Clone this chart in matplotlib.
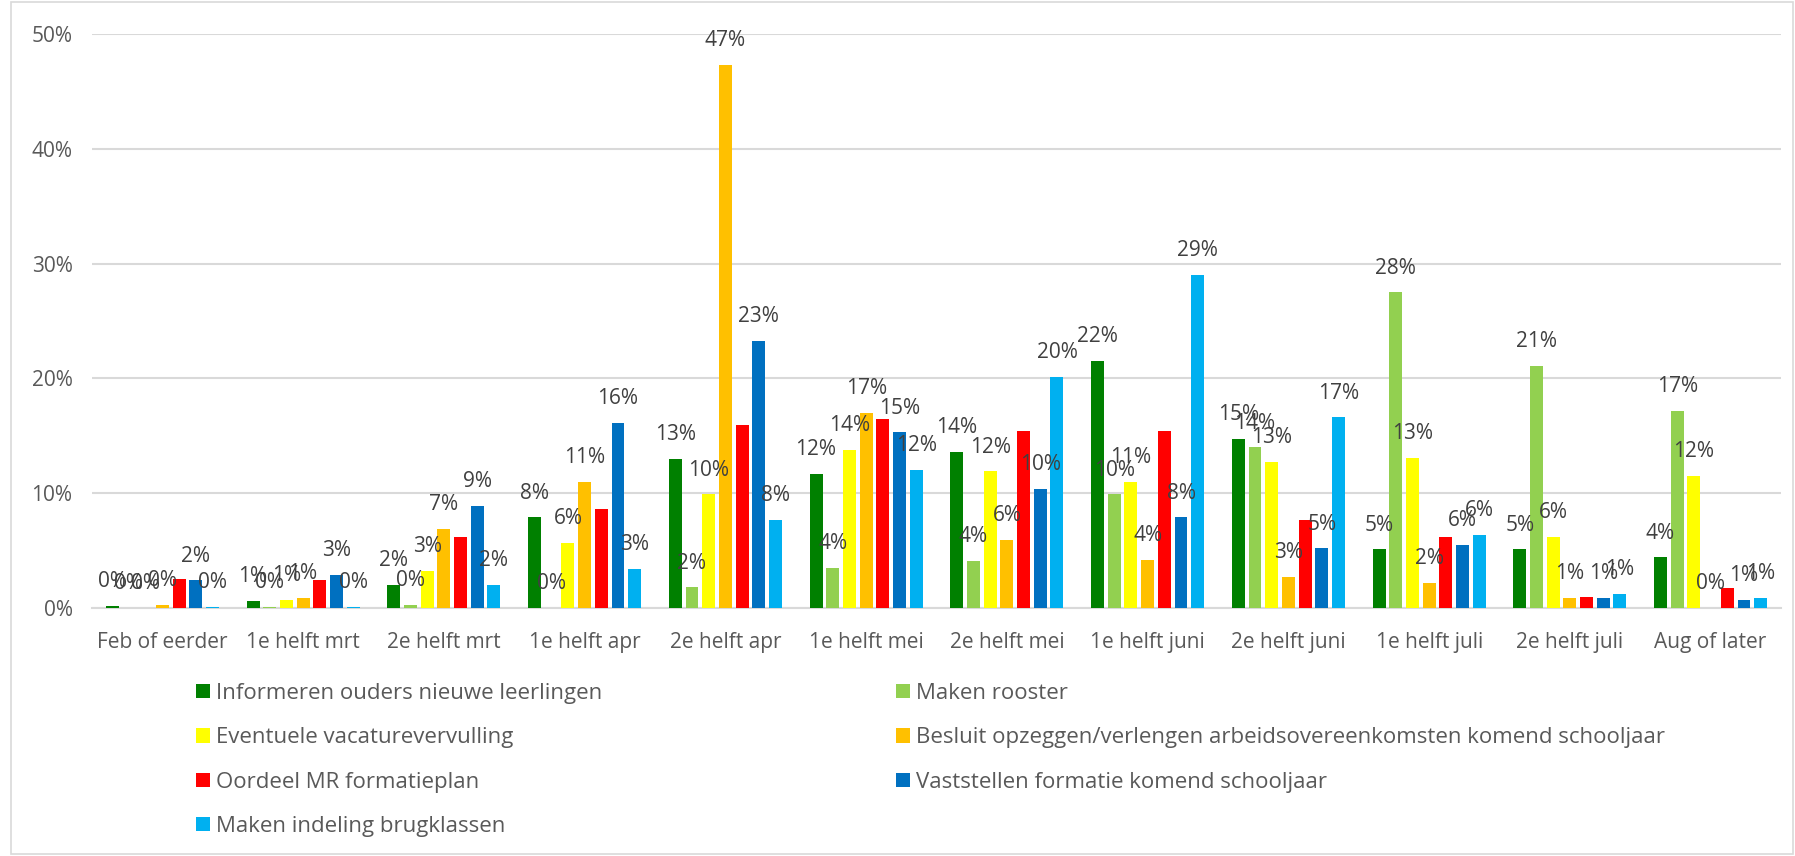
import matplotlib.pyplot as plt
import numpy as np
from matplotlib.patches import Rectangle

categories = ["Feb of eerder", "1e helft mrt", "2e helft mrt", "1e helft apr",
              "2e helft apr", "1e helft mei", "2e helft mei", "1e helft juni",
              "2e helft juni", "1e helft juli", "2e helft juli", "Aug of later"]

series_names = ["Informeren ouders nieuwe leerlingen",
                "Maken rooster",
                "Eventuele vacaturevervulling",
                "Besluit opzeggen/verlengen arbeidsovereenkomsten komend schooljaar",
                "Oordeel MR formatieplan",
                "Vaststellen formatie komend schooljaar",
                "Maken indeling brugklassen"]

# percentages per period
informeren = [0.2, 0.6, 2.0, 7.9, 13.0, 11.7, 13.6, 21.5, 14.7, 5.1, 5.1, 4.4]
rooster = [0.0, 0.1, 0.3, 0.0, 1.8, 3.5, 4.1, 9.9, 14.0, 27.5, 21.1, 17.2]
vacature = [0.0, 0.7, 3.2, 5.7, 9.9, 13.8, 11.9, 11.0, 12.7, 13.1, 6.2, 11.5]
besluit = [0.3, 0.9, 6.9, 11.0, 47.3, 17.0, 5.9, 4.2, 2.7, 2.2, 0.9, 0.0]
oordeel = [2.5, 2.4, 6.2, 8.6, 15.9, 16.5, 15.4, 15.4, 7.7, 6.2, 1.0, 1.7]
vaststellen = [2.4, 2.9, 8.9, 16.1, 23.3, 15.3, 10.4, 7.9, 5.2, 5.5, 0.9, 0.7]
brugklassen = [0.1, 0.1, 2.0, 3.4, 7.7, 12.0, 20.1, 29.0, 16.6, 6.4, 1.2, 0.9]

colors = ["#008000", "#92D050", "#FFFF00", "#FFC000", "#FF0000", "#0070C0", "#00B0F0"]
# the red series carries no data labels in the original
show_labels = [True, True, True, True, False, True, True]

plt.rcParams['font.family'] = ['Open Sans', 'DejaVu Sans']

all_series = [informeren, rooster, vacature, besluit, oordeel, vaststellen, brugklassen]

fig = plt.figure(figsize=(17.95, 8.56), dpi=100)
ax = fig.add_axes([92 / 1795, 1 - 608 / 856, (1781 - 92) / 1795, (608 - 34) / 856])

x = np.arange(len(categories))
pitch = 0.1186
width = 0.092
handles = []
for i, (vals, col) in enumerate(zip(all_series, colors)):
    pos = x + (i - 3) * pitch
    bars = ax.bar(pos, vals, width=width, color=col, zorder=3)
    handles.append(bars)
    if show_labels[i]:
        for p, v in zip(pos, vals):
            ax.text(p, v + 1.2, f"{v:.0f}%", ha='center', va='bottom',
                    fontsize=15, color='#404040', zorder=4)

ax.set_ylim(0, 50)
ax.set_xlim(-0.5, len(categories) - 0.5)
ax.set_yticks(range(0, 51, 10))
ax.set_yticklabels([f"{t}%" for t in range(0, 51, 10)])
ax.set_xticks(x)
ax.set_xticklabels(categories)
ax.tick_params(axis='both', length=0, labelsize=15, colors='#595959')
ax.tick_params(axis='x', pad=17)
ax.tick_params(axis='y', pad=14)
ax.grid(axis='y', color='#D9D9D9', lw=1.5, zorder=0)
for s in ['top', 'right', 'left']:
    ax.spines[s].set_visible(False)
ax.spines['bottom'].set_color('#D9D9D9')
ax.spines['bottom'].set_linewidth(1.5)

order = [0, 2, 4, 6, 1, 3, 5]
leg = fig.legend([handles[i] for i in order], [series_names[i] for i in order],
                 ncol=2, loc='upper left', bbox_to_anchor=(176 / 1795, 1 - 663 / 856),
                 frameon=False, fontsize=16, handlelength=0.62, handleheight=0.62,
                 handletextpad=0.3, columnspacing=13.2, labelspacing=1.05,
                 labelcolor='#595959')

fig.patches.append(Rectangle((11 / 1795, 0.002), 1 - 13 / 1795, 0.996,
                             transform=fig.transFigure, fill=False,
                             edgecolor='#D9D9D9', lw=1.2))

fig.savefig("out.png", dpi=100)
